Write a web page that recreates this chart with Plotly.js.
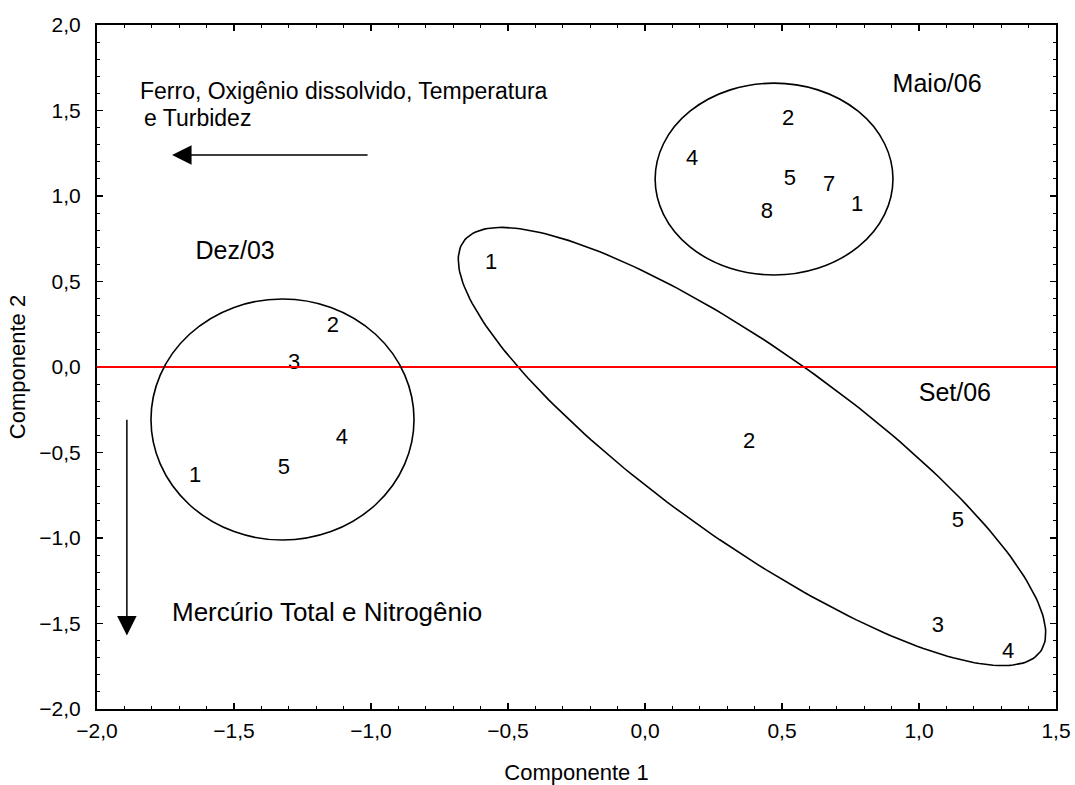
<!DOCTYPE html>
<html><head><meta charset="utf-8">
<script src="https://cdn.plot.ly/plotly-3.0.1.min.js"></script>
<style>html,body{margin:0;padding:0;background:#fff}#chart{width:1075px;height:785px}</style>
</head><body><div id="chart"></div><script>
// Sample scores (Componente 1, Componente 2) per campaign
const dezX = [-1.642, -1.139, -1.281, -1.106, -1.318];
const dezY = [-0.643, 0.234, 0.018, -0.421, -0.591];
const dezLabels = ['1', '2', '3', '4', '5'];

const maioX = [0.774, 0.522, 0.172, 0.529, 0.672, 0.445];
const maioY = [0.942, 1.450, 1.216, 1.099, 1.064, 0.901];
const maioLabels = ['1', '2', '4', '5', '7', '8'];

const setX = [-0.562, 0.380, 1.069, 1.325, 1.142];
const setY = [0.608, -0.444, -1.515, -1.667, -0.901];
const setLabels = ['1', '2', '3', '4', '5'];

const groupNames = ['Dez/03', 'Maio/06', 'Set/06'];
const groupNameX = [-1.496, 1.066, 1.131];
const groupNameY = [0.667, 1.643, -0.164];

// Grouping ellipses (data units)
const dezEllipse = [-1.323, -0.307, 0.48, 0.705];   // cx, cy, rx, ry
const maioEllipse = [0.471, 1.099, 0.434, 0.561];
const setEllipseCenter = [0.3905, -0.465];
const setEllipseU = [1.053, -1.1986];   // conjugate semi-diameters
const setEllipseV = [-0.2008, -0.4528];

const arrowTexts = ['Ferro, Oxigênio dissolvido, Temperatura', 'e Turbidez', 'Mercúrio Total e Nitrogênio'];

const FONT = 'Arial, "Liberation Sans", sans-serif';

const ex = [], ey = [];
for (let i = 0; i <= 240; i++) {
  const t = 2 * Math.PI * i / 240;
  ex.push(setEllipseCenter[0] + setEllipseU[0] * Math.cos(t) + setEllipseV[0] * Math.sin(t));
  ey.push(setEllipseCenter[1] + setEllipseU[1] * Math.cos(t) + setEllipseV[1] * Math.sin(t));
}

const labelFont = {family: FONT, size: 22, color: '#000'};
const traces = [
  {x: ex, y: ey, mode: 'lines', line: {color: '#000', width: 1.6}, hoverinfo: 'skip'},
  {x: dezX, y: dezY, text: dezLabels, mode: 'text', textfont: labelFont, textposition: 'middle center'},
  {x: maioX, y: maioY, text: maioLabels, mode: 'text', textfont: labelFont, textposition: 'middle center'},
  {x: setX, y: setY, text: setLabels, mode: 'text', textfont: labelFont, textposition: 'middle center'},
  {x: groupNameX, y: groupNameY, text: groupNames, mode: 'text', textfont: {family: FONT, size: 25, color: '#000'}, textposition: 'middle center'}
];

function ell(p) {
  return {type: 'circle', xref: 'x', yref: 'y', x0: p[0] - p[2], x1: p[0] + p[2], y0: p[1] - p[3], y1: p[1] + p[3],
    line: {color: '#000', width: 1.6}, fillcolor: 'rgba(0,0,0,0)'};
}

const axisCommon = {
  showline: true, linewidth: 2, linecolor: '#000', mirror: 'ticks',
  ticks: 'inside', ticklen: 6, tickwidth: 1.5, tickcolor: '#000',
  showgrid: false, zeroline: false, tickformat: '.1f', dtick: 0.5,
  tickfont: {family: FONT, size: 21, color: '#000'},
  minor: {dtick: 0.1, ticks: 'inside', ticklen: 3, tickwidth: 1, tickcolor: '#000', showgrid: false}
};

const layout = {
  width: 1075, height: 785, separators: ',.',
  margin: {l: 97, r: 19, t: 25, b: 76},
  paper_bgcolor: '#fff', plot_bgcolor: '#fff', showlegend: false,
  font: {family: FONT, color: '#000'},
  xaxis: Object.assign({}, axisCommon, {range: [-2, 1.5], tick0: -2, ticklabelstandoff: 2,
    title: {text: 'Componente 1', font: {family: FONT, size: 22, color: '#000'}, standoff: 26}}),
  yaxis: Object.assign({}, axisCommon, {range: [-2, 2], tick0: -2, ticklabelstandoff: 10,
    title: {text: 'Componente 2', font: {family: FONT, size: 22, color: '#000'}, standoff: 8}}),
  shapes: [
    {type: 'line', xref: 'x', yref: 'y', x0: -2, x1: 1.5, y0: 0, y1: 0, line: {color: '#ff0000', width: 2}},
    ell(dezEllipse), ell(maioEllipse)
  ],
  annotations: [
    {x: -1.726, y: 1.240, ax: -1.007, ay: 1.240, axref: 'x', ayref: 'y', xref: 'x', yref: 'y', text: '',
      showarrow: true, arrowhead: 2, arrowsize: 2.6, arrowwidth: 1.5, arrowcolor: '#000'},
    {x: -1.891, y: -1.57, ax: -1.891, ay: -0.30, axref: 'x', ayref: 'y', xref: 'x', yref: 'y', text: '',
      showarrow: true, arrowhead: 2, arrowsize: 2.6, arrowwidth: 1.5, arrowcolor: '#000'},
    {x: -1.850, y: 1.614, xref: 'x', yref: 'y', xanchor: 'left', yanchor: 'middle', showarrow: false,
      text: arrowTexts[0], font: {family: FONT, size: 23, color: '#000'}},
    {x: -1.836, y: 1.456, xref: 'x', yref: 'y', xanchor: 'left', yanchor: 'middle', showarrow: false,
      text: arrowTexts[1], font: {family: FONT, size: 23, color: '#000'}},
    {x: -1.734, y: -1.43, xref: 'x', yref: 'y', xanchor: 'left', yanchor: 'middle', showarrow: false,
      text: arrowTexts[2], font: {family: FONT, size: 26, color: '#000'}}
  ]
};

Plotly.newPlot('chart', traces, layout, {displayModeBar: false, staticPlot: true});
</script></body></html>
